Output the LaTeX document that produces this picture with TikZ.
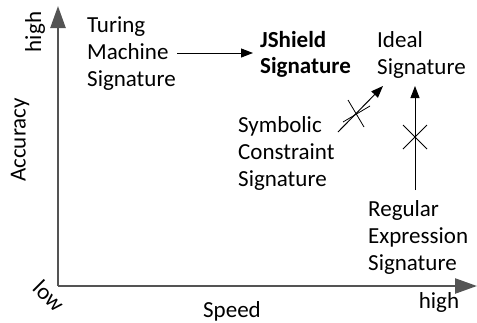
\documentclass[tikz,border=0pt]{standalone}
\usepackage{fontspec}
\setmainfont{Carlito}
\usetikzlibrary{arrows.meta,calc}
\begin{document}
\begin{tikzpicture}[x=1pt,y=-1pt,
  axis/.style={draw=black!67,line width=2.4pt,-{Triangle[length=22pt,width=15pt]}},
  link/.style={draw=black,line width=1pt,-{Triangle[length=12pt,width=9pt]}},
  cross/.style={draw=black,line width=0.8pt},
  lbl/.style={font=\fontsize{23}{27}\selectfont,inner sep=0pt},
  sig/.style={lbl,align=left,anchor=north west}]
\useasboundingbox (0,0) rectangle (477,322);
% axes
\coordinate (o) at (58,286);
\coordinate (ytop) at (58,6);
\coordinate (xend) at (477,286);
\draw[axis] (o) -- (ytop);
\draw[axis] (o) -- (xend);
% axis labels
\node[lbl,rotate=90] (yhigh) at (35,32) {high};
\node[lbl,rotate=90] (ylab) at (20,140) {Accuracy};
\node[lbl,rotate=-45] (low) at (49,296) {low};
\node[lbl] (xlab) at (232,311) {Speed};
\node[lbl] (xhigh) at (439,302) {high};
% signatures
\node[sig] (tm) at (87,16) {Turing\\Machine\\Signature};
\node[sig,font=\fontsize{23}{26}\selectfont\bfseries] (js) at (260,31) {JShield\\Signature};
\node[sig] (ideal) at (377,31) {Ideal\\Signature};
\node[sig] (sc) at (238,116) {Symbolic\\Constraint\\Signature};
\node[sig] (re) at (368,200) {Regular\\Expression\\Signature};
% connectors
\coordinate (tmR) at (177,53);
\coordinate (jsL) at (253,53);
\draw[link] (tmR) -- (jsL);
\coordinate (scA) at (338,132);
\coordinate (idA) at (383,86);
\draw[link] (scA) -- (idA);
\coordinate (reA) at (415,190);
\coordinate (idB) at (415,86);
\draw[link] (reA) -- (idB);
% crosses marking the failed routes
\coordinate (c1) at (356,113);
\draw[cross] ($(c1)+(-8,-13)$) -- ($(c1)+(8,14)$);
\draw[cross] ($(c1)+(-13,9)$) -- ($(c1)+(14,-7)$);
\coordinate (c2) at (415,137);
\draw[cross] ($(c2)+(-12,-12)$) -- ($(c2)+(12,12)$);
\draw[cross] ($(c2)+(-12,12)$) -- ($(c2)+(12,-12)$);
\end{tikzpicture}
\end{document}
